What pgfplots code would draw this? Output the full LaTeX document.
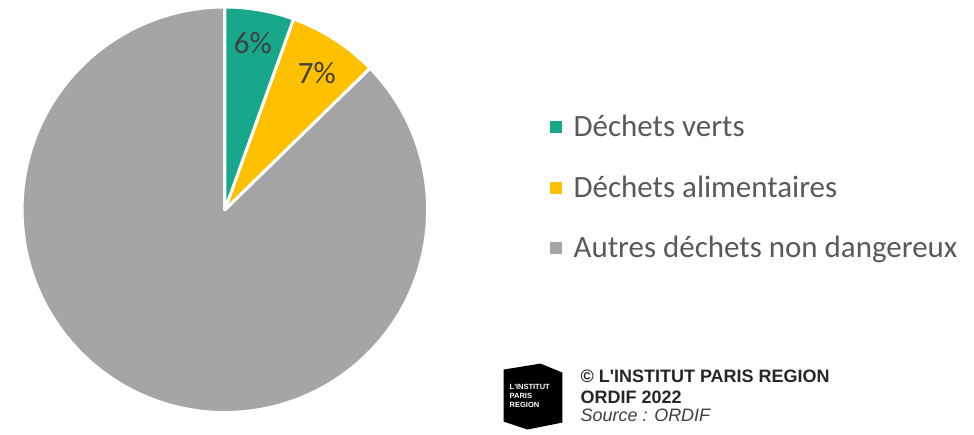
\documentclass[border=0pt]{standalone}
\usepackage{pgfplots}
\pgfplotsset{compat=1.18}
\usepackage{pgfplotstable}
\usepackage{fontspec}
\setmainfont{Carlito}
\newfontfamily\arialfont{Liberation Sans}

\definecolor{cverts}{HTML}{17A88C}
\definecolor{calim}{HTML}{FFC000}
\definecolor{cautres}{HTML}{A5A5A5}
\definecolor{clabel}{HTML}{404040}
\definecolor{clegend}{HTML}{595959}

% parts du gisement (en %), lues sur le camembert
\pgfplotstableread{
cat value
verts 5.5
alim 7.2
autres 87.3
}\pietable

\begin{document}
\begin{tikzpicture}[line join=round]
\pgfplotstablegetelem{0}{value}\of\pietable \let\va\pgfplotsretval
\pgfplotstablegetelem{1}{value}\of\pietable \let\vb\pgfplotsretval
\pgfmathsetmacro\aA{90-3.6*\va}
\pgfmathsetmacro\aB{\aA-3.6*\vb}
\pgfmathsetmacro\aC{90-360}
\def\R{203pt}
\begin{axis}[
  x=1pt, y=1pt,
  xmin=0, xmax=974, ymin=0, ymax=430,
  hide axis, clip=false,
  ]
  \path (axis cs:0,0) rectangle (axis cs:974,430);
  % camembert
  \fill[cautres, draw=white, line width=3pt] (axis cs:224,220) -- ([shift={(\aB:\R)}]axis cs:224,220)
    arc[start angle=\aB, end angle=\aC, radius=\R] -- cycle;
  \fill[calim, draw=white, line width=3pt] (axis cs:224,220) -- ([shift={(\aA:\R)}]axis cs:224,220)
    arc[start angle=\aA, end angle=\aB, radius=\R] -- cycle;
  \fill[cverts, draw=white, line width=3pt] (axis cs:224,220) -- ([shift={(90:\R)}]axis cs:224,220)
    arc[start angle=90, end angle=\aA, radius=\R] -- cycle;
  % étiquettes
  \node[text=clabel, font=\fontsize{31}{36}\selectfont] at (axis cs:252,387) {6\%};
  \node[text=clabel, font=\fontsize{31}{36}\selectfont] at (axis cs:316,357) {7\%};
  % légende
  \fill[cverts] (axis cs:550,297) rectangle (axis cs:562,309);
  \fill[calim] (axis cs:550,236) rectangle (axis cs:562,248);
  \fill[cautres] (axis cs:550,176) rectangle (axis cs:562,188);
  \node[anchor=base west, inner sep=0pt, text=clegend, font=\fontsize{31}{36}\selectfont] at (axis cs:573,293) {Déchets verts};
  \node[anchor=base west, inner sep=0pt, text=clegend, font=\fontsize{31}{36}\selectfont] at (axis cs:573,232) {Déchets alimentaires};
  \node[anchor=base west, inner sep=0pt, text=clegend, font=\fontsize{31}{36}\selectfont] at (axis cs:573,172) {Autres déchets non dangereux};
  % logo et crédits
  \fill[black] (axis cs:503,60) -- (axis cs:540,66) -- (axis cs:562,57) -- (axis cs:562,7)
    -- (axis cs:527,0) -- (axis cs:503,8) -- cycle;
  \node[anchor=base west, inner sep=0pt, text=white, font=\arialfont\bfseries\fontsize{7.5}{8}\selectfont] at (axis cs:509,40) {L'INSTITUT};
  \node[anchor=base west, inner sep=0pt, text=white, font=\arialfont\bfseries\fontsize{7.5}{8}\selectfont] at (axis cs:509,31) {PARIS};
  \node[anchor=base west, inner sep=0pt, text=white, font=\arialfont\bfseries\fontsize{7.5}{8}\selectfont] at (axis cs:509,22) {REGION};
  \node[anchor=base west, inner sep=0pt, text=black!85, font=\arialfont\bfseries\fontsize{18}{20}\selectfont] at (axis cs:580,47) {© L'INSTITUT PARIS REGION};
  \node[anchor=base west, inner sep=0pt, text=black!85, font=\arialfont\bfseries\fontsize{18}{20}\selectfont] at (axis cs:580,26) {ORDIF 2022};
  \node[anchor=base west, inner sep=0pt, text=black!75, font=\arialfont\itshape\fontsize{18}{20}\selectfont] at (axis cs:580,8) {Source : ORDIF};
\end{axis}
\end{tikzpicture}
\end{document}
